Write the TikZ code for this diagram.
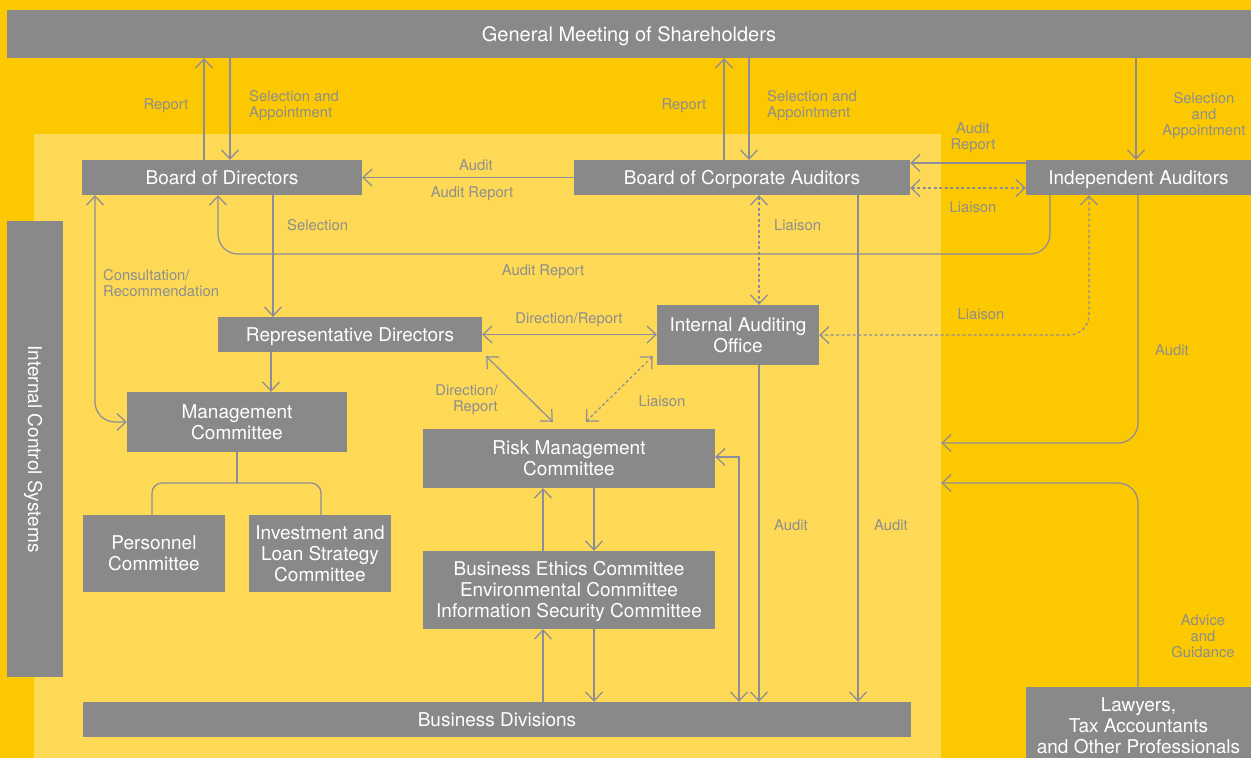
\documentclass[tikz,border=0pt]{standalone}
\usepackage{fontspec}
\setmainfont{TeX Gyre Heros}
\usetikzlibrary{arrows.meta}
\definecolor{outerbg}{HTML}{FCC800}
\definecolor{innerbg}{HTML}{FDD955}
\definecolor{boxgray}{HTML}{898989}
\definecolor{linegray}{HTML}{8C8C9C}
\definecolor{labelgray}{HTML}{8E8E8E}
\begin{document}
\begin{tikzpicture}[x=1pt,y=-1pt,
  box/.style={fill=boxgray, text=white, inner sep=0pt, align=center,
    font=\fontsize{19}{21}\selectfont, text height=13.6pt, text depth=0pt},
  lines2/.style={text height=34.6pt},
  lines3/.style={text height=55.6pt},
  lbl/.style={text=labelgray, inner sep=0pt, font=\fontsize{14.8}{16}\selectfont},
  conn/.style={draw=linegray, line width=1.2pt},
  dotconn/.style={conn, dash pattern=on 3pt off 2.5pt},
  >={Straight Barb[length=9pt,width=17pt]}]

% canvas and zones
\useasboundingbox (0,0) rectangle (1251,758);
\fill[outerbg] (0,0) rectangle (1251,758);
\node[fill=innerbg, inner sep=0pt, minimum width=907pt, minimum height=624pt] (inner) at (487.5,446) {};

% boxes
\node[box, minimum width=1244pt, minimum height=48pt, font=\fontsize{20}{22}\selectfont, text height=14.3pt] (gm) at (629,34) {General Meeting of Shareholders};
\node[box, minimum width=456pt, minimum height=56pt, rotate=-90] (ics) at (35,449) {Internal Control Systems};
\node[box, minimum width=280pt, minimum height=35pt] (bod) at (222,177.5) {Board of Directors};
\node[box, minimum width=336pt, minimum height=35pt] (bca) at (742,177.5) {Board of Corporate Auditors};
\node[box, minimum width=225pt, minimum height=35pt] (ia) at (1138.5,177.5) {Independent Auditors};
\node[box, minimum width=264pt, minimum height=35pt] (rd) at (350,334.5) {Representative Directors};
\node[box, lines2, minimum width=162pt, minimum height=60pt] (iao) at (738,335) {Internal Auditing\\Office};
\node[box, lines2, minimum width=220pt, minimum height=60pt] (mc) at (237,422) {Management\\Committee};
\node[box, lines2, minimum width=142pt, minimum height=77pt] (pc) at (154,553.5) {Personnel\\Committee};
\node[box, lines3, minimum width=142pt, minimum height=77pt] (ilsc) at (320,553.5) {Investment and\\Loan Strategy\\Committee};
\node[box, lines2, minimum width=292pt, minimum height=59pt] (rmc) at (569,458.5) {Risk Management\\Committee};
\node[box, lines3, minimum width=292pt, minimum height=78pt] (bec) at (569,590) {Business Ethics Committee\\Environmental Committee\\Information Security Committee};
\node[box, minimum width=828pt, minimum height=35pt] (bd) at (497,719.5) {Business Divisions};
\node[box, lines3, minimum width=225pt, minimum height=78pt] (law) at (1138.5,726) {Lawyers,\\Tax Accountants\\and Other Professionals};

% shareholders and the boards
\draw[conn,->] (204,0 |- bod.north) -- (204,0 |- gm.south);
\draw[conn,->] (230,0 |- gm.south) -- (230,0 |- bod.north);
\draw[conn,->] (724,0 |- bca.north) -- (724,0 |- gm.south);
\draw[conn,->] (749,0 |- gm.south) -- (749,0 |- bca.north);
\draw[conn,->] (1136,0 |- gm.south) -- (1136,0 |- ia.north);

% auditors
\draw[conn,->] (bca.west) -- (bod.east);
\draw[conn,->] (ia.west |- 0,163) -- (bca.east |- 0,163);
\draw[dotconn,<->] (bca.east |- 0,188) -- (ia.west |- 0,188);
\draw[conn,->,rounded corners=20pt] (1050,0 |- ia.south) -- (1050,254) -- (218,254) -- (218,0 |- bod.south);
\draw[dotconn,<->] (759,0 |- bca.south) -- (759,0 |- iao.north);
\draw[dotconn,<->,rounded corners=20pt] (1089,0 |- ia.south) -- (1089,335) -- (iao.east |- 0,335);

% directors and management
\draw[conn,->] (273,0 |- bod.south) -- (273,0 |- rd.north);
\draw[conn,<->,rounded corners=20pt] (95,0 |- bod.south) -- (95,422) -- (mc.west |- 0,422);
\draw[conn,->] (271,0 |- rd.south) -- (271,0 |- mc.north);
\draw[conn,rounded corners=10pt] (mc.south) -- (237,483);
\draw[conn,rounded corners=10pt] (152,0 |- pc.north) -- (152,483) -- (321,483) -- (321,0 |- ilsc.north);
\draw[conn,<->] (rd.east) -- (iao.west |- rd.east);
\draw[conn,<->] ([shift={(4,4)}]rd.south east) -- ([shift={(130,-7)}]rmc.north west);
\draw[dotconn,<->] ([shift={(-4,-9)}]iao.south west) -- ([shift={(163,-7)}]rmc.north west);

% committees and business divisions
\draw[conn,->] (543,0 |- bec.north) -- (543,0 |- rmc.south);
\draw[conn,->] (594,0 |- rmc.south) -- (594,0 |- bec.north);
\draw[conn,->] (543,0 |- bd.north) -- (543,0 |- bec.south);
\draw[conn,->] (594,0 |- bec.south) -- (594,0 |- bd.north);
\draw[conn,<->] (rmc.east |- 0,457) -- (739,457) -- (739,0 |- bd.north);
\draw[conn,->] (759,0 |- iao.south) -- (759,0 |- bd.north);
\draw[conn,->] (858,0 |- bca.south) -- (858,0 |- bd.north);

% outside parties into the internal zone
\draw[conn,->,rounded corners=20pt] (1138,0 |- ia.south) -- (1138,443) -- (inner.east |- 0,443);
\draw[conn,->,rounded corners=20pt] (1138,0 |- law.north) -- (1138,483) -- (inner.east |- 0,483);

% connector labels
\node[lbl] (l1) at (166,106) {Report};
\node[lbl, anchor=west, align=left] (l2) at (249,106) {Selection and\\Appointment};
\node[lbl] (l3) at (684,106) {Report};
\node[lbl, anchor=west, align=left] (l4) at (767,106) {Selection and\\Appointment};
\node[lbl, align=center] (l5) at (1204,115.5) {Selection\\and\\Appointment};
\node[lbl, align=center] (l6) at (973,138) {Audit\\Report};
\node[lbl] (l7) at (476,165) {Audit};
\node[lbl] (l8) at (472,194) {Audit Report};
\node[lbl] (l9) at (973,207) {Liaison};
\node[lbl, anchor=west] (l10) at (287,225) {Selection};
\node[lbl, anchor=west] (l11) at (774,225) {Liaison};
\node[lbl] (l12) at (543,272) {Audit Report};
\node[lbl, anchor=west, align=left] (l13) at (103,283) {Consultation/\\Recommendation};
\node[lbl] (l14) at (569,320) {Direction/Report};
\node[lbl] (l15) at (981,314) {Liaison};
\node[lbl] (l16) at (1172,350) {Audit};
\node[lbl, anchor=east, align=right] (l17) at (498,399.5) {Direction/\\Report};
\node[lbl] (l18) at (662,401) {Liaison};
\node[lbl] (l19) at (791,525) {Audit};
\node[lbl] (l20) at (891,525) {Audit};
\node[lbl, align=center] (l21) at (1203,636) {Advice\\and\\Guidance};
\end{tikzpicture}
\end{document}
